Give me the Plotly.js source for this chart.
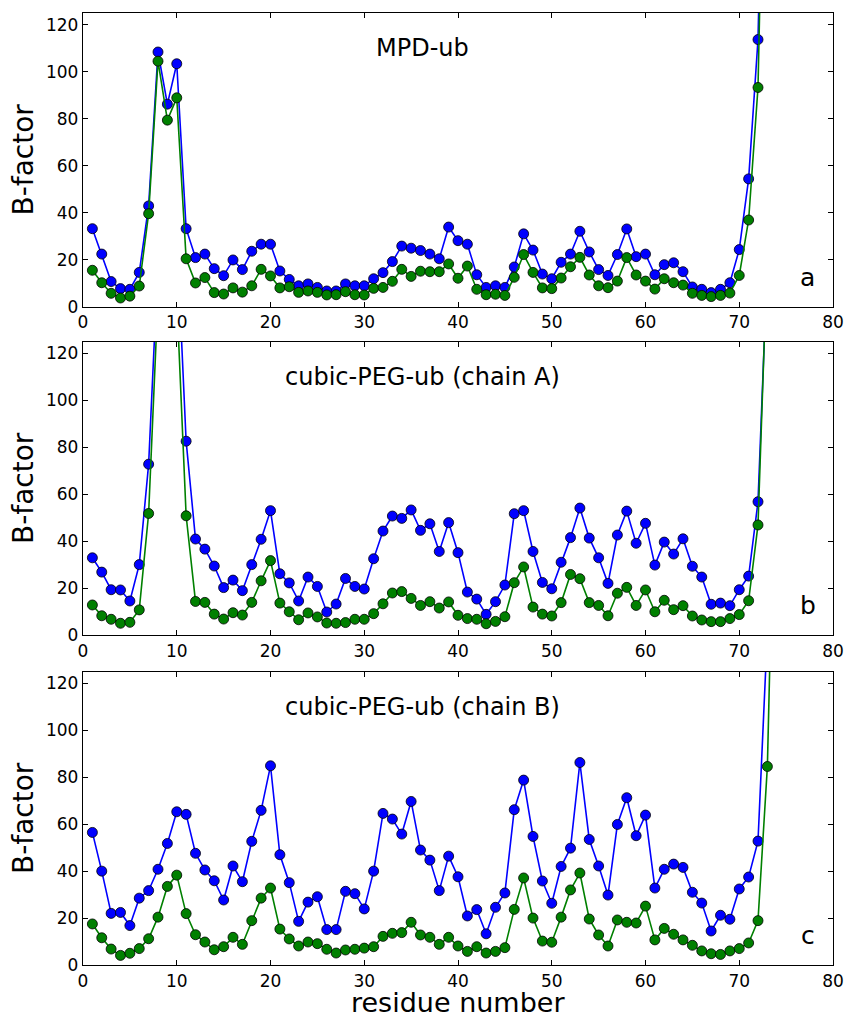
<!DOCTYPE html>
<html>
<head>
<meta charset="utf-8">
<script src="https://cdn.plot.ly/plotly-3.0.1.min.js"></script>
<style>html,body{margin:0;padding:0;background:#fff;}#chart{width:849px;height:1017px;}</style>
</head>
<body>
<div id="chart"></div>
<script>
// Residue numbers
const residue = [1,2,3,4,5,6,7,8,9,10,11,12,13,14,15,16,17,18,19,20,21,22,23,24,25,26,27,28,29,30,
  31,32,33,34,35,36,37,38,39,40,41,42,43,44,45,46,47,48,49,50,51,52,53,54,55,56,57,58,59,60,
  61,62,63,64,65,66,67,68,69,70,71,72,73,74];

// Panel a: MPD-ub
const mpdBlue = [33.2,22.4,10.7,7.7,7.4,14.6,42.9,108.4,86.2,103.4,
  33.2,20.9,22.4,16.2,13.2,19.9,15.8,23.6,26.6,26.6,
  15.2,11.6,8.9,9.7,8.2,6.7,6.7,9.7,8.9,8.9,
  11.9,14.5,19.2,25.8,24.9,23.9,22.4,20.4,33.9,28.1,
  26.6,13.6,8.2,8.9,8.2,16.9,31.0,24.1,13.9,11.9,
  18.9,22.4,32.1,23.3,15.8,13.3,22.2,33.1,21.3,22.4,
  13.6,17.9,18.7,14.9,8.4,7.4,6.0,7.4,10.2,24.3,
  54.4,113.7,290];
const mpdGreen = [15.5,10.2,5.7,3.7,4.5,8.8,39.6,104.5,79.4,88.9,
  20.4,10.1,12.4,6.0,5.4,8.0,6.2,8.9,15.9,13.1,
  8.0,8.5,6.1,6.7,6.1,5.0,5.1,6.4,5.1,5.0,
  7.8,8.2,10.8,15.9,12.9,15.1,14.9,14.9,18.2,12.1,
  17.3,7.4,5.1,5.3,4.8,12.5,22.2,14.6,8.0,7.7,
  12.2,17.0,21.0,13.5,8.9,8.1,10.9,20.9,13.5,10.9,
  7.5,11.9,10.2,9.2,5.7,4.8,4.3,4.8,5.8,13.3,
  36.9,93.3,280];

// Panel b: cubic-PEG-ub (chain A)
const pegABlue = [32.9,26.8,19.3,19.2,14.5,30.0,72.8,159,150,171,
  82.6,40.9,36.6,29.4,20.2,23.4,18.9,30.0,40.8,53.0,
  26.1,22.2,14.5,24.7,20.7,9.8,13.2,24.1,20.7,19.6,
  32.5,44.3,50.7,49.7,53.3,44.6,47.4,35.6,47.9,35.1,
  18.3,15.3,8.8,14.2,21.3,51.7,53.0,35.6,22.4,19.7,
  31.0,41.5,54.1,41.3,32.9,22.0,42.6,52.8,39.1,47.6,
  29.8,39.6,34.5,41.0,29.3,24.7,13.1,13.6,12.5,19.3,
  25.1,56.8,159];
const pegAGreen = [12.8,8.2,6.7,5.0,5.4,10.7,51.8,144,135,144,
  50.8,14.3,13.9,8.9,6.8,9.5,8.5,13.9,23.1,31.7,
  13.6,9.9,6.5,9.4,7.7,5.1,5.0,5.3,6.7,6.7,
  9.1,13.3,17.9,18.5,15.6,12.6,14.2,11.5,14.1,8.4,
  7.0,6.7,4.8,5.8,7.8,22.3,29.0,11.9,8.9,8.1,
  13.8,25.8,24.0,13.8,12.6,8.2,17.8,20.3,12.6,19.2,
  9.9,14.8,10.8,12.5,8.1,6.4,5.7,5.7,7.0,8.7,
  14.6,46.9,164];

// Panel c: cubic-PEG-ub (chain B)
const pegBBlue = [56.5,40.0,22.0,22.4,16.8,28.5,31.7,40.8,51.8,65.3,
  64.2,47.6,40.5,35.9,27.7,42.2,35.5,52.7,65.9,84.9,
  47.0,35.1,18.6,26.8,29.1,15.1,15.1,31.4,30.4,23.9,
  40.0,64.6,62.2,55.8,69.7,49.0,44.7,31.7,46.4,37.6,
  20.9,23.6,13.3,24.6,30.7,66.2,78.8,54.8,35.8,26.3,
  42.0,49.8,86.3,53.5,42.2,29.8,59.9,71.3,55.1,63.9,
  32.8,40.8,43.0,41.6,31.0,26.4,14.5,21.2,19.5,32.4,
  37.5,52.8,142];
const pegBGreen = [17.5,11.6,6.8,4.1,5.0,7.0,11.2,20.4,33.5,38.3,
  21.9,12.9,9.8,6.5,7.8,11.8,8.8,18.9,28.5,32.8,
  15.3,11.1,8.1,9.8,9.1,6.7,5.1,6.4,6.7,7.2,
  7.8,12.2,13.5,13.8,18.2,12.8,11.8,8.8,11.8,8.1,
  5.8,7.8,5.1,5.8,7.4,23.7,37.1,20.0,10.2,9.7,
  20.4,32.0,39.2,19.6,12.8,8.1,19.2,18.2,17.9,25.1,
  10.7,15.6,13.1,10.7,8.4,6.0,4.8,4.5,6.0,7.0,
  9.4,18.9,84.6,253];

const panelTitles = ["MPD-ub", "cubic-PEG-ub (chain A)", "cubic-PEG-ub (chain B)"];
const panelLetters = ["a", "b", "c"];
const xTicks = [0,10,20,30,40,50,60,70,80];
const yTicks = [0,20,40,60,80,100,120];
const xTitle = "residue number";
const yTitle = "B-factor";

const panels = [[mpdBlue, mpdGreen], [pegABlue, pegAGreen], [pegBBlue, pegBGreen]];
const BLUE = "#0000ff", GREEN = "#008000";
const FONT = "DejaVu Sans";

const traces = [];
panels.forEach((p, i) => {
  const xa = i === 0 ? "x" : "x" + (i + 1);
  const ya = i === 0 ? "y" : "y" + (i + 1);
  [[p[0], BLUE], [p[1], GREEN]].forEach(([vals, col]) => {
    traces.push({
      type: "scatter", mode: "lines+markers",
      x: residue.slice(0, vals.length), y: vals,
      xaxis: xa, yaxis: ya,
      line: {color: col, width: 1.6},
      marker: {color: col, size: 10, line: {color: "#000", width: 0.8}},
      showlegend: false, cliponaxis: true
    });
  });
});

const H = 952;
const domains = [[(965-306.7)/H, 1], [(965-635)/H, (965-341.7)/H], [0, (965-671.7)/H]];

const layout = {
  width: 849, height: 1017,
  margin: {l: 83, r: 16, t: 13, b: 52},
  paper_bgcolor: "#fff", plot_bgcolor: "#fff",
  font: {family: FONT, color: "#000"},
  showlegend: false,
  annotations: [{
    xref: "paper", yref: "paper", x: 0.5, y: 0, yshift: -37, borderpad: 0,
    text: xTitle, showarrow: false, xanchor: "center", yanchor: "middle",
    font: {family: FONT, size: 27, color: "#000"}
  }]
};

domains.forEach((d, i) => {
  const sx = i === 0 ? "" : String(i + 1);
  const xa = {
    domain: [0, 1], anchor: "y" + sx, range: [0, 80],
    tickvals: xTicks, ticktext: xTicks.map(String),
    ticks: "inside", ticklen: 5, tickcolor: "#000", tickwidth: 1,
    showline: true, linecolor: "#000", linewidth: 1.2, mirror: "ticks",
    showgrid: false, zeroline: false,
    tickfont: {family: FONT, size: 17, color: "#000"}
  };
  const ya = {
    domain: d, anchor: "x" + sx, range: [0, 125],
    tickvals: yTicks, ticktext: yTicks.map(String),
    ticks: "inside", ticklen: 5, tickcolor: "#000", tickwidth: 1,
    showline: true, linecolor: "#000", linewidth: 1.2, mirror: "ticks",
    showgrid: false, zeroline: false,
    tickfont: {family: FONT, size: 17, color: "#000"},
    title: {text: yTitle, font: {family: FONT, size: 28, color: "#000"}, standoff: 4}
  };
  layout["xaxis" + sx] = xa;
  layout["yaxis" + sx] = ya;
  layout.annotations.push({
    xref: "x" + sx, yref: "y" + sx, x: 36.2, y: 110,
    text: panelTitles[i], showarrow: false, xanchor: "center", yanchor: "middle",
    font: {family: FONT, size: 24, color: "#000"}
  });
  layout.annotations.push({
    xref: "x" + sx, yref: "y" + sx, x: 77.3, y: 12.5,
    text: panelLetters[i], showarrow: false, xanchor: "center", yanchor: "middle",
    font: {family: FONT, size: 25, color: "#000"}
  });
});

Plotly.newPlot("chart", traces, layout, {staticPlot: true, displayModeBar: false});
</script>
</body>
</html>
